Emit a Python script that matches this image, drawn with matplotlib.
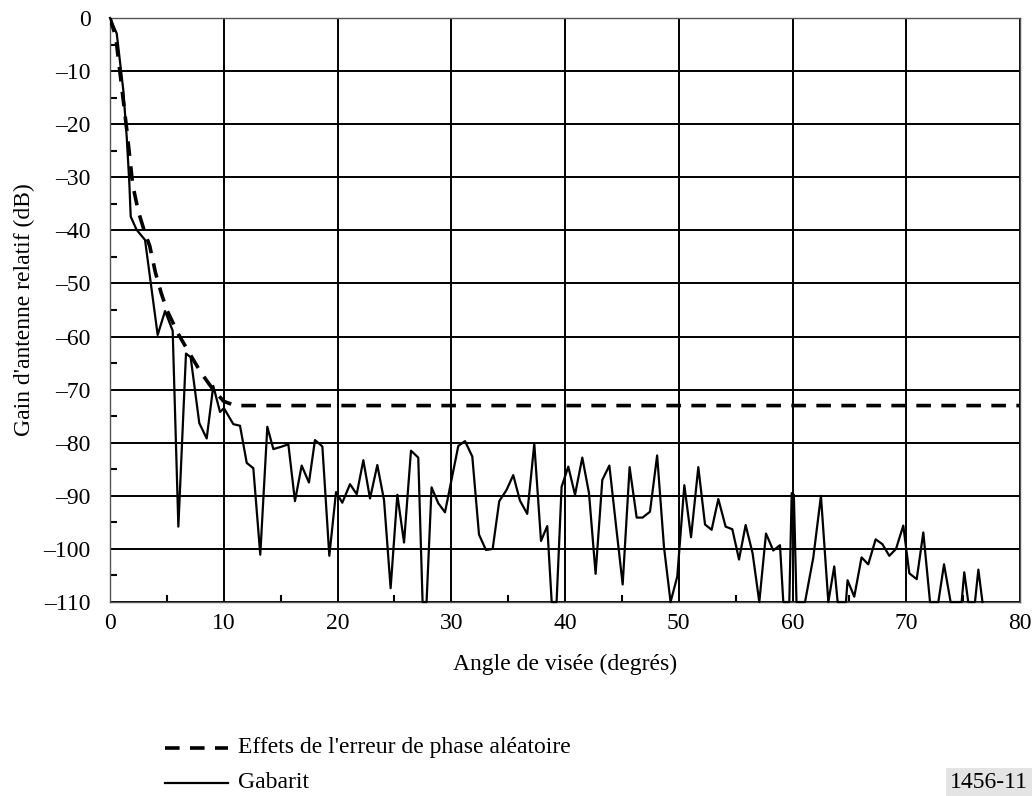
import numpy as np
import matplotlib.pyplot as plt
from matplotlib.lines import Line2D
from matplotlib.ticker import MultipleLocator, FuncFormatter

plt.rcParams['font.family'] = ['Liberation Serif', 'DejaVu Serif']
plt.rcParams['lines.scale_dashes'] = False

# Gabarit (solid line)
gab_deg = [0, 0.59, 1.17, 1.47, 1.70, 1.82, 2.34, 3.08, 4.19, 4.84, 5.51, 6.01, 6.68, 7.09,
           7.85, 8.50, 9.08, 9.67, 10.02, 10.84, 11.43, 12.02, 12.60, 13.21, 13.83, 14.36,
           15.00, 15.68, 16.26, 16.85, 17.49, 18.02, 18.67, 19.28, 19.87, 20.42, 21.10,
           21.69, 22.27, 22.86, 23.50, 24.09, 24.67, 25.26, 25.85, 26.46, 27.10, 27.48,
           27.83, 28.27, 28.86, 29.45, 30.62, 31.21, 31.85, 32.44, 33.05, 33.64, 34.22,
           34.86, 35.45, 36.04, 36.68, 37.30, 37.89, 38.44, 38.83, 39.26, 39.70, 40.29,
           40.88, 41.52, 42.11, 42.69, 43.28, 43.90, 44.48, 45.07, 45.68, 46.30, 46.82,
           47.47, 48.10, 48.70, 49.28, 49.87, 50.49, 51.08, 51.72, 52.31, 52.89, 53.48,
           54.12, 54.71, 55.30, 55.88, 56.49, 57.08, 57.67, 58.31, 58.90, 59.19, 59.72,
           59.93, 60.12, 60.35, 61.10, 61.83, 62.50, 63.15, 63.67, 63.97, 64.70, 64.84,
           65.43, 66.07, 66.66, 67.31, 67.90, 68.51, 69.10, 69.74, 70.27, 70.92, 71.50,
           72.09, 72.82, 73.32, 73.90, 74.87, 75.10, 75.45, 76.04, 76.34, 76.70]
gab_db = [0, -2.9, -13.6, -22.4, -31.1, -37.4, -39.9, -41.8, -59.7, -55.2, -58.9, -95.8,
          -63.2, -63.9, -76.3, -79.2, -69.3, -74.2, -73.5, -76.5, -76.8, -83.8, -84.8,
          -101.1, -77.0, -81.2, -80.8, -80.3, -91.0, -84.3, -87.5, -79.5, -80.7, -101.3,
          -89.3, -91.3, -87.8, -89.7, -83.3, -90.5, -84.2, -90.8, -107.4, -89.8, -98.8,
          -81.5, -82.8, -110, -110, -88.4, -91.4, -93.1, -80.6, -79.7, -82.6, -97.3,
          -100.2, -100.0, -91.0, -88.9, -86.1, -90.9, -93.4, -80.2, -98.5, -95.7, -110,
          -110, -88.3, -84.5, -89.8, -82.8, -89.5, -104.7, -87.0, -84.3, -95.5, -106.7,
          -84.6, -94.1, -94.1, -93.0, -82.4, -99.6, -110, -105.2, -88.0, -97.8, -84.6,
          -95.4, -96.4, -90.6, -95.8, -96.3, -102.0, -95.5, -100.8, -110, -97.1, -100.3,
          -99.3, -110, -110, -89.5, -89.8, -110, -110, -101.6, -90.0, -110, -103.3, -110,
          -110, -105.9, -109.0, -101.6, -102.9, -98.2, -99.1, -101.3, -100.0, -95.6,
          -104.6, -105.7, -96.9, -110, -110, -102.9, -110, -110, -104.4, -110, -110,
          -103.9, -110]

# Effets de l'erreur de phase aleatoire (dashed line)
ph_deg = [0, 0.5, 1.0, 1.5, 2.0, 2.5, 3.0, 3.5, 4.0, 4.5, 5.0, 6.0, 7.0, 8.0, 9.0, 10.0, 11.0, 80]
ph_db = [0, -3.5, -12.5, -21.5, -31.5, -36.5, -40, -43, -48, -51.8, -55, -59.5, -63.2,
         -66.8, -69.8, -72.2, -73, -73]

fig = plt.figure(figsize=(10.32, 7.96), dpi=100)
ax = fig.add_axes([110/1032, 1 - 602/796, 910/1032, 584/796])

ax.plot(ph_deg, ph_db, color='black', lw=2.6, dashes=(10.5, 7.5), zorder=4)
ax.plot(gab_deg, gab_db, color='black', lw=1.6, zorder=5, clip_on=False)

ax.set_xlim(0, 80)
ax.set_ylim(-110, 0)
ax.xaxis.set_major_locator(MultipleLocator(10))
ax.yaxis.set_major_locator(MultipleLocator(10))
ax.xaxis.set_minor_locator(MultipleLocator(5))
ax.yaxis.set_minor_locator(MultipleLocator(5))
ax.yaxis.set_major_formatter(FuncFormatter(lambda v, p: f"{int(v)}".replace('-', '\u2013')))
ax.grid(True, which='major', color='black', lw=1.4)
ax.tick_params(which='major', length=0, labelsize=17, pad=8)
ax.tick_params(which='minor', direction='in', length=5, width=1.5, color='black')
ax.tick_params(axis='y', which='major', pad=14)
for s in ax.spines.values():
    s.set_color('#555555')
    s.set_linewidth(1.0)

ax.set_xlabel("Angle de visée (degrés)", fontsize=17, labelpad=14)
ax.set_ylabel("Gain d'antenne relatif (dB)", fontsize=17, labelpad=6)

# legend below the plot
fig.add_artist(Line2D([165/1032, 228/1032], [1 - 748/796] * 2, color='black', lw=2.6,
                      dashes=(10.5, 7.5), transform=fig.transFigure))
fig.add_artist(Line2D([165/1032, 228/1032], [1 - 783/796] * 2, color='black', lw=1.6,
                      transform=fig.transFigure))
fig.text(238/1032, 1 - 748/796, "Effets de l'erreur de phase aléatoire", fontsize=17,
         va='center', ha='left')
fig.text(238/1032, 1 - 783/796, "Gabarit", fontsize=17, va='center', ha='left')
fig.text(1028/1032, 1 - 783/796, "1456-11", fontsize=17, va='center', ha='right',
         bbox=dict(facecolor='#e4e4e4', edgecolor='none', pad=3))

fig.savefig("out.png", dpi=100)
